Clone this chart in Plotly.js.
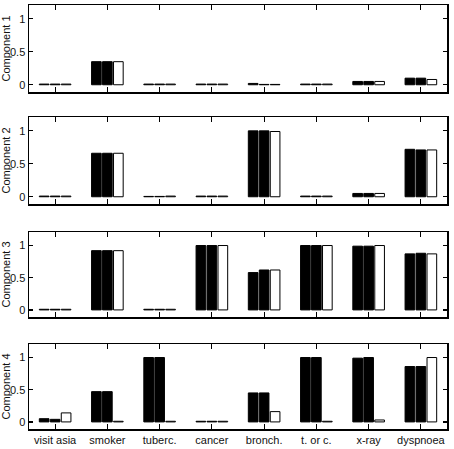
<!DOCTYPE html>
<html>
<head>
<meta charset="utf-8">
<script src="https://cdn.plot.ly/plotly-3.0.1.min.js"></script>
<style>html,body{margin:0;padding:0;background:#fff;}#chart{width:454px;height:449px;}</style>
</head>
<body>
<div id="chart"></div>
<script>
const categories = ["visit asia", "smoker", "tuberc.", "cancer", "bronch.", "t. or c.", "x-ray", "dyspnoea"];
const panelTitles = ["Component 1", "Component 2", "Component 3", "Component 4"];
const yTickVals = [0, 0.5, 1];
const yTickText = ["0", "0.5", "1"];

// Component 1
const comp1_a = [0.01, 0.35, 0.01, 0.01, 0.02, 0.01, 0.05, 0.10];
const comp1_b = [0.01, 0.35, 0.01, 0.01, 0.005, 0.01, 0.05, 0.10];
const comp1_c = [0.01, 0.35, 0.01, 0.01, 0.005, 0.01, 0.05, 0.08];
// Component 2
const comp2_a = [0.01, 0.66, 0.005, 0.01, 1.00, 0.01, 0.05, 0.72];
const comp2_b = [0.01, 0.66, 0.005, 0.01, 1.00, 0.01, 0.05, 0.71];
const comp2_c = [0.01, 0.66, 0.01, 0.01, 0.99, 0.01, 0.05, 0.71];
// Component 3
const comp3_a = [0.01, 0.92, 0.01, 1.00, 0.58, 1.00, 0.99, 0.87];
const comp3_b = [0.01, 0.92, 0.01, 1.00, 0.62, 1.00, 0.99, 0.88];
const comp3_c = [0.01, 0.92, 0.01, 1.00, 0.62, 1.00, 1.00, 0.87];
// Component 4
const comp4_a = [0.05, 0.47, 1.00, 0.01, 0.45, 1.00, 0.99, 0.86];
const comp4_b = [0.04, 0.47, 1.00, 0.01, 0.45, 1.00, 1.00, 0.86];
const comp4_c = [0.14, 0.01, 0.01, 0.01, 0.16, 0.01, 0.03, 1.00];

const panels = [
  [comp1_a, comp1_b, comp1_c],
  [comp2_a, comp2_b, comp2_c],
  [comp3_a, comp3_b, comp3_c],
  [comp4_a, comp4_b, comp4_c]
];

const W = 454, H = 449;
const xDom = [29 / W, 447 / W];
const yPix = [[5, 92], [117, 204], [232, 317], [344, 429]];
const fills = ["#000000", "#000000", "#ffffff"];

const traces = [];
const layout = {
  width: W, height: H,
  margin: {l: 0, r: 0, t: 0, b: 0},
  paper_bgcolor: "#fff", plot_bgcolor: "#fff",
  showlegend: false,
  barmode: "group",
  bargap: 0.37,
  bargroupgap: 0.12,
  font: {family: "Liberation Sans, Arial, sans-serif", size: 11, color: "#111"}
};

panels.forEach((series, i) => {
  const n = i + 1;
  const xa = n === 1 ? "x" : "x" + n;
  const ya = n === 1 ? "y" : "y" + n;
  series.forEach((vals, j) => {
    traces.push({
      type: "bar",
      x: categories,
      y: vals,
      xaxis: xa, yaxis: ya,
      marker: {color: fills[j], line: {color: "#000", width: 1}},
      hoverinfo: "skip"
    });
  });
  const xKey = n === 1 ? "xaxis" : "xaxis" + n;
  const yKey = n === 1 ? "yaxis" : "yaxis" + n;
  layout[xKey] = {
    domain: xDom,
    anchor: ya,
    type: "category",
    categoryorder: "array",
    categoryarray: categories,
    range: [-0.5, 7.5],
    showline: true, linecolor: "#000", linewidth: 1.5,
    mirror: "ticks",
    ticks: "inside", ticklen: 5, tickwidth: 1.2, tickcolor: "#000",
    showgrid: false, zeroline: false,
    showticklabels: n === 4,
    tickfont: {size: 11, color: "#111", family: "Liberation Sans, Arial, sans-serif"},
    fixedrange: true
  };
  layout[yKey] = {
    domain: [1 - yPix[i][1] / H, 1 - yPix[i][0] / H],
    anchor: xa,
    range: [-0.11, 1.21],
    tickvals: yTickVals,
    ticktext: yTickText,
    showline: true, linecolor: "#000", linewidth: 1.5,
    mirror: "ticks",
    ticks: "inside", ticklen: 4, tickwidth: 1.2, tickcolor: "#000",
    showgrid: false, zeroline: false,
    tickfont: {size: 11, color: "#111", family: "Liberation Sans, Arial, sans-serif"},
    title: {text: panelTitles[i], font: {size: 11, color: "#111", family: "Liberation Sans, Arial, sans-serif"}, standoff: 4},
    fixedrange: true
  };
});

Plotly.newPlot("chart", traces, layout, {staticPlot: true, displayModeBar: false});
</script>
</body>
</html>
